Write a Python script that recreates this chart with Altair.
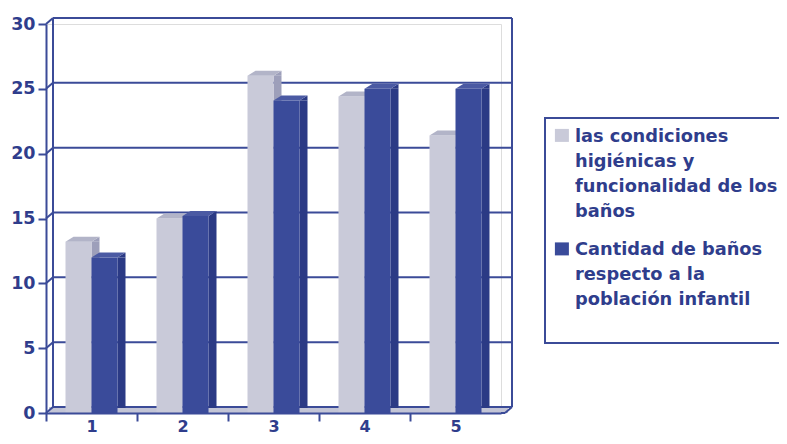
import altair as alt
import pandas as pd

# ---------------- data ----------------
categories = ["1", "2", "3", "4", "5"]
series_names = [
    "las condiciones|higiénicas y|funcionalidad de los|baños",
    "Cantidad de baños|respecto a la|población infantil",
]
values_light = [13.2, 15.0, 26.0, 24.4, 21.4]
values_dark = [12.0, 15.2, 24.1, 25.0, 25.0]
y_ticks = [0, 5, 10, 15, 20, 25, 30]

# ---------------- style ----------------
W, H = 455, 389
BAR = 26 / 91  # bar width in category units
FRAME = "#3b4b98"
TEXT = "#2f3d8c"
FONT = "DejaVu Sans"
STYLES = [
    dict(front="#c9cad9", top="#b2b4c8", side="#9d9fba"),
    dict(front="#3a4b9a", top="#4b5aa3", side="#2b3a85"),
]


def series_frame(vals, k):
    rows = []
    for i, (c, v) in enumerate(zip(categories, vals)):
        left = i + 0.5 - BAR + k * BAR
        rows.append(dict(cat=c, series=series_names[k], value=v,
                         left=left, right=left + BAR, mid=left + BAR / 2))
    return pd.DataFrame(rows)


frames = [series_frame(values_light, 0), series_frame(values_dark, 1)]
grid_df = pd.DataFrame({"v": y_ticks})
one = pd.DataFrame({"z": [0]})

xs = alt.Scale(domain=[0, len(categories)], nice=False, zero=False)
ys = alt.Scale(domain=[y_ticks[0], y_ticks[-1]], nice=False)

label_js = "[" + ",".join("'%s'" % c for c in categories) + "]"
x_axis = alt.Axis(
    values=list(range(len(categories))),
    labelExpr=label_js + "[datum.value]",
    labelOffset=45.5, labelFlush=False, labelOverlap=False,
    tickSize=8, tickWidth=2, tickColor=FRAME,
    domainColor=FRAME, domainWidth=2, grid=False,
    labelFont=FONT, labelFontSize=16, labelFontWeight="bold",
    labelColor=TEXT, labelPadding=-3, title=None, zindex=1,
)
y_axis = alt.Axis(
    values=y_ticks, tickSize=8, tickWidth=2, tickColor=FRAME,
    domainColor=FRAME, domainWidth=2, grid=False,
    labelFont=FONT, labelFontSize=17.5, labelFontWeight="bold",
    labelColor=TEXT, labelPadding=3, title=None, zindex=1,
)


def X(f):
    return alt.X(f, type="quantitative", scale=xs, axis=x_axis, title=None)


def XD(d):
    return alt.XDatum(d, type="quantitative", scale=xs, axis=x_axis, title=None)


def Y(f):
    return alt.Y(f, type="quantitative", scale=ys, axis=y_axis, title=None)


def YD(d):
    return alt.YDatum(d, type="quantitative", scale=ys, axis=y_axis, title=None)


n = len(categories)
layers = []

# floor slab
layers.append(alt.Chart(one).mark_rect(fill="#c3c5d6", xOffset=3, x2Offset=7, yOffset=-6)
              .encode(x=XD(0), x2=alt.X2Datum(n), y=YD(0), y2=alt.Y2Datum(0)))
# back wall grid lines
layers.append(alt.Chart(grid_df).mark_rule(color=FRAME, strokeWidth=2, xOffset=7, x2Offset=11, yOffset=-6)
              .encode(x=XD(0), x2=alt.X2Datum(n), y=Y("v")))
# left wall connectors
layers.append(alt.Chart(grid_df).mark_rule(color=FRAME, strokeWidth=2, x2Offset=7, y2Offset=-6)
              .encode(x=XD(0), x2=alt.X2Datum(0), y=Y("v"), y2=alt.Y2("v")))
# back wall left / right edges
for xd, off in [(0, 7), (n, 11)]:
    layers.append(alt.Chart(one).mark_rule(color=FRAME, strokeWidth=2, xOffset=off, yOffset=-6, y2Offset=-6)
                  .encode(x=XD(xd), y=YD(y_ticks[-1]), y2=alt.Y2Datum(0)))
# floor front extension and right diagonal
layers.append(alt.Chart(one).mark_rule(color=FRAME, strokeWidth=2, x2Offset=4)
              .encode(x=XD(n), x2=alt.X2Datum(n), y=YD(0)))
layers.append(alt.Chart(one).mark_rule(color=FRAME, strokeWidth=2, xOffset=4, x2Offset=11, y2Offset=-6)
              .encode(x=XD(n), x2=alt.X2Datum(n), y=YD(0), y2=alt.Y2Datum(0)))

legend = alt.Legend(
    orient="none", legendX=509, legendY=109, title=None, padding=0,
    symbolType="M-9,-13L5,-13L5,0L-9,0Z", symbolSize=4, symbolStrokeWidth=0,
    symbolOpacity=1, labelOffset=2.2, labelFont=FONT, labelFontSize=17.8,
    labelFontWeight="bold", labelColor=TEXT, labelBaseline="alphabetic",
    labelLimit=600, labelExpr="split(datum.label, '|')", rowPadding=19.5,
)
color = alt.Color("series:N", scale=alt.Scale(domain=series_names,
                  range=[STYLES[0]["front"], STYLES[1]["front"]]), legend=legend)

for df, st in zip(frames, STYLES):
    base = alt.Chart(df)
    # side face
    layers.append(base.mark_rect(color=st["side"], x2Offset=8, y2Offset=-5)
                  .encode(x=X("right"), x2=alt.X2("right"), y=Y("value"), y2=alt.Y2Datum(0)))
    layers.append(base.mark_point(shape="M13,0L21,-5L21,0Z", size=4, filled=True,
                                  color=st["side"], opacity=1, strokeWidth=0)
                  .encode(x=X("mid"), y=Y("value")))
    # front face
    layers.append(base.mark_rect()
                  .encode(x=X("left"), x2=alt.X2("right"), y=Y("value"), y2=alt.Y2Datum(0), color=color))
    # top face
    layers.append(base.mark_point(shape="M-13,0L13,0L21,-5L-5,-5Z", size=4, filled=True,
                                  color=st["top"], opacity=1, strokeWidth=0)
                  .encode(x=X("mid"), y=Y("value")))

# legend frame
layers.append(alt.Chart(one).mark_rect(fill="white", fillOpacity=0, stroke=FRAME, strokeWidth=2)
              .encode(x=alt.value(499), x2=alt.value(760), y=alt.value(94), y2=alt.value(319)))

chart = (
    alt.layer(*layers)
    .properties(width=W, height=H, autosize=alt.AutoSizeParams(type="none"),
                padding={"left": 38, "top": 16, "right": 278, "bottom": 23})
    .configure_view(stroke=None)
    .configure(style={"guide-label": {"lineHeight": 25}})
)

chart.save("out.html", embed_options={"renderer": "svg", "actions": False})
